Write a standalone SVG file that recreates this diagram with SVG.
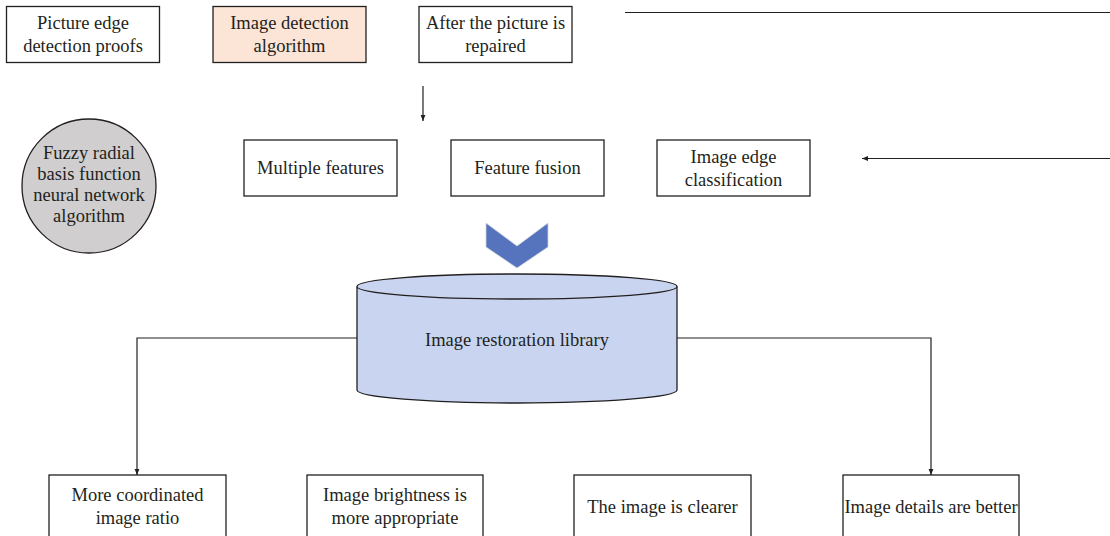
<svg xmlns="http://www.w3.org/2000/svg" width="1110" height="536" viewBox="0 0 1110 536">
<defs>
<style>
.box{fill:#ffffff;stroke:#231f20;stroke-width:1.3}
.t{font-family:"Liberation Serif","Times New Roman",serif;font-size:18.5px;fill:#231f20;text-anchor:middle}
.ln{fill:none;stroke:#231f20;stroke-width:1.2}
</style>
<marker id="ah" viewBox="0 0 10 10" refX="10" refY="5" markerWidth="6" markerHeight="6" markerUnits="userSpaceOnUse" orient="auto">
<path d="M0,1 L10,5 L0,9 Z" fill="#231f20"/>
</marker>
</defs>
<rect width="1110" height="536" fill="#ffffff"/>

<g id="connectors">
<line class="ln" x1="625" y1="12.5" x2="1110" y2="12.5"/>
<line class="ln" x1="423" y1="86" x2="423" y2="121" marker-end="url(#ah)"/>
<line class="ln" x1="1110" y1="158.5" x2="862" y2="158.5" marker-end="url(#ah)"/>
<polyline class="ln" points="357,338 137,338 137,475" marker-end="url(#ah)"/>
<polyline class="ln" points="677,338 931,338 931,475" marker-end="url(#ah)"/>
</g>

<g id="n-picture-edge">
<rect class="box" x="6.5" y="6.5" width="153" height="56"/>
<text class="t" x="83" y="29">Picture edge</text>
<text class="t" x="83" y="52">detection proofs</text>
</g>
<g id="n-image-detection">
<rect class="box" x="213" y="6.5" width="153" height="56" style="fill:#fce4d6"/>
<text class="t" x="289.5" y="29">Image detection</text>
<text class="t" x="289.5" y="52">algorithm</text>
</g>
<g id="n-after-repair">
<rect class="box" x="419" y="6.5" width="153" height="56"/>
<text class="t" x="495.5" y="29">After the picture is</text>
<text class="t" x="495.5" y="52">repaired</text>
</g>

<g id="n-fuzzy">
<circle cx="89" cy="186" r="67" fill="#d0cece" stroke="#231f20" stroke-width="1.3"/>
<text class="t" x="89" y="159">Fuzzy radial</text>
<text class="t" x="89" y="180">basis function</text>
<text class="t" x="89" y="201">neural network</text>
<text class="t" x="89" y="222">algorithm</text>
</g>

<g id="n-multiple">
<rect class="box" x="244" y="140" width="153" height="56"/>
<text class="t" x="320.5" y="174">Multiple features</text>
</g>
<g id="n-fusion">
<rect class="box" x="451" y="140" width="153" height="56"/>
<text class="t" x="527.5" y="174">Feature fusion</text>
</g>
<g id="n-classification">
<rect class="box" x="657" y="140" width="153" height="56"/>
<text class="t" x="733.5" y="163">Image edge</text>
<text class="t" x="733.5" y="186">classification</text>
</g>

<g id="n-chevron">
<polygon points="486,223 517,246 548,223 548,247 517,268 486,247" fill="#5574bd" stroke="#d0d4dc" stroke-width="0.8"/>
</g>

<g id="n-library">
<path d="M357,286.5 L357,390 A160,13 0 0 0 677,390 L677,286.5" fill="#c9d5f0" stroke="#231f20" stroke-width="1.3"/>
<ellipse cx="517" cy="286.5" rx="160" ry="12.5" fill="#c9d5f0" stroke="#231f20" stroke-width="1.3"/>
<text class="t" x="517" y="346">Image restoration library</text>
</g>

<g id="n-ratio">
<rect class="box" x="49" y="475" width="177" height="80"/>
<text class="t" x="137.5" y="501">More coordinated</text>
<text class="t" x="137.5" y="524">image ratio</text>
</g>
<g id="n-brightness">
<rect class="box" x="307" y="475" width="176" height="80"/>
<text class="t" x="395" y="501">Image brightness is</text>
<text class="t" x="395" y="524">more appropriate</text>
</g>
<g id="n-clearer">
<rect class="box" x="574" y="475" width="177" height="80"/>
<text class="t" x="662.5" y="513">The image is clearer</text>
</g>
<g id="n-details">
<rect class="box" x="843" y="475" width="176" height="80"/>
<text class="t" x="931" y="513">Image details are better</text>
</g>
</svg>
